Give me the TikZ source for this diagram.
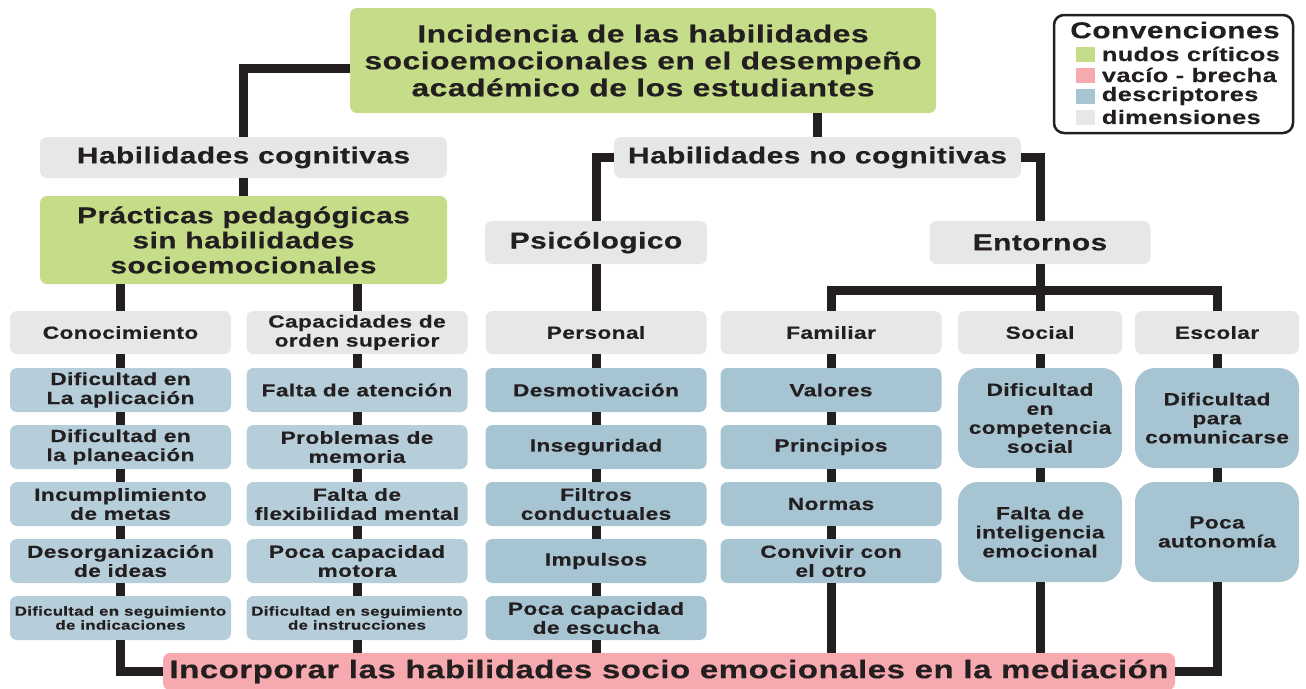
\documentclass[tikz,border=0pt]{standalone}
\usepackage{fontspec}
\setmainfont{Liberation Sans}[FakeStretch=1.3,LetterSpace=2,FakeBold=0.4]
\usepackage{xcolor}
\usepackage{tikz}
\usetikzlibrary{positioning,calc}

\definecolor{nudo}{HTML}{C5DC88}
\definecolor{vacio}{HTML}{F6A9AE}
\definecolor{descA}{HTML}{B5CEDA}
\definecolor{descB}{HTML}{A7C4D2}
\definecolor{dimen}{HTML}{E6E7E9}
\definecolor{linea}{HTML}{231F20}

\newcommand{\bigtxt}{\fontsize{24.5}{27}\selectfont}
\newcommand{\midtxt}{\fontsize{23}{25}\selectfont}
\newcommand{\stdtxt}{\fontsize{17.5}{19}\selectfont}
\newcommand{\tinytxt}{\fontsize{13}{14}\selectfont}
\newcommand{\legtxt}{\fontsize{19.5}{21}\selectfont}
\newcommand{\pinktxt}{\fontsize{25.4}{28}\selectfont}

\begin{document}
\begin{tikzpicture}[
    x=1pt, y=-1pt,
    base/.style={rounded corners=7pt, align=center, inner sep=0pt, text=linea, font=\bfseries},
    nudobox/.style={base, fill=nudo},
    dimbox/.style={base, fill=dimen, minimum height=43pt, font=\bfseries\midtxt},
    dimrow/.style={dimbox, minimum width=221pt, font=\bfseries\stdtxt},
    descbox/.style={base, fill=descA, minimum width=221pt, minimum height=44pt, font=\bfseries\stdtxt},
    tallbox/.style={descbox, fill=descB, minimum width=164pt, minimum height=100pt, rounded corners=20pt},
    link/.style={draw=linea, line width=9pt, line join=miter}
]
  \useasboundingbox (0,0) rectangle (1306,688);
  \clip (0,0) rectangle (1306,688);

  \node[nudobox, minimum width=586pt, minimum height=105pt, font=\bfseries\bigtxt] (tit) at (643,60.5)
    {Incidencia de las habilidades\\socioemocionales en el desempeño\\académico de los estudiantes};

  % convenciones
  \node[draw=linea, line width=2.5pt, rounded corners=10pt, minimum width=239pt, minimum height=118pt] (conv) at (1173.5,74) {};
  \node[font=\bfseries\midtxt, text=linea, inner sep=0pt] (convt) at (1175,30) {Convenciones};
  \foreach \c/\t [count=\i] in {nudo/nudos críticos, vacio/vacío - brecha, descB/descriptores, dimen/dimensiones} {
    \node[fill=\c, minimum width=19pt, minimum height=15pt, inner sep=0pt] (sw\i) at (1085,33+21*\i) {};
    \node[anchor=west, font=\bfseries\legtxt, text=linea, inner sep=0pt] (lt\i) at ([xshift=7pt]sw\i.east) {\t};
  }

  \node[dimbox, minimum width=407pt, minimum height=41pt] (habcog) at (243.5,157.5) {Habilidades cognitivas};
  \node[dimbox, minimum width=407pt, minimum height=41pt] (habnocog) at (817.5,157.5) {Habilidades no cognitivas};
  \node[nudobox, minimum width=407pt, minimum height=88pt, font=\bfseries\midtxt] (prac) at (243.5,240)
    {Prácticas pedagógicas\\sin habilidades\\socioemocionales};
  \node[dimbox, minimum width=222pt] (psico) at (596,242.5) {Psicólogico};
  \node[dimbox, minimum width=221pt] (entor) at (1040,242.5) {Entornos};

  \node[dimrow] (conh) at (120.5,332.5) {Conocimiento};
  \node[dimrow] (caph) at (357,332.5) {Capacidades de\\orden superior};
  \node[dimrow] (perh) at (596,332.5) {Personal};
  \node[dimrow] (famh) at (831,332.5) {Familiar};
  \node[dimrow, minimum width=164pt] (soch) at (1040,332.5) {Social};
  \node[dimrow, minimum width=164pt] (esch) at (1217,332.5) {Escolar};

  % descriptores
  \foreach \t [count=\i] in {{Dificultad en\\La aplicación},{Dificultad en\\la planeación},{Incumplimiento\\de metas},{Desorganización\\de ideas}}
    \node[descbox] (con\i) at (120.5,333+57*\i) {\t};
  \node[descbox, font=\bfseries\tinytxt] (con5) at (120.5,618) {Dificultad en seguimiento\\de indicaciones};

  \foreach \t [count=\i] in {{Falta de atención},{Problemas de\\memoria},{Falta de\\flexibilidad mental},{Poca capacidad\\motora}}
    \node[descbox] (cap\i) at (357,333+57*\i) {\t};
  \node[descbox, font=\bfseries\tinytxt] (cap5) at (357,618) {Dificultad en seguimiento\\de instrucciones};

  \foreach \t [count=\i] in {Desmotivación,Inseguridad,{Filtros\\conductuales},Impulsos,{Poca capacidad\\de escucha}}
    \node[descbox, fill=descB] (per\i) at (596,333+57*\i) {\t};

  \foreach \t [count=\i] in {Valores,Principios,Normas,{Convivir con\\el otro}}
    \node[descbox, fill=descB] (fam\i) at (831,333+57*\i) {\t};

  \node[tallbox] (soc1) at (1040,418) {Dificultad\\en\\competencia\\social};
  \node[tallbox] (soc2) at (1040,532) {Falta de\\inteligencia\\emocional};
  \node[tallbox] (esc1) at (1217,418) {Dificultad\\para\\comunicarse};
  \node[tallbox] (esc2) at (1217,532) {Poca\\autonomía};

  \node[base, fill=vacio, minimum width=1012pt, minimum height=37pt, font=\bfseries\pinktxt] (incorp) at (669,671.5)
    {Incorporar las habilidades socio emocionales en la mediación};

  % conectores
  \draw[link] ($(tit.west)+(0,7.5)$) -| (habcog.north);
  \draw[link] (tit.south -| habnocog.north) -- (habnocog.north);
  \draw[link] (habcog.south) -- (prac.north);
  \draw[link] (habnocog.west) -| (psico.north);
  \draw[link] (habnocog.east) -| (entor.north);
  \draw[link] (prac.south -| conh.north) -- (conh.north);
  \draw[link] (prac.south -| caph.north) -- (caph.north);
  \draw[link] (psico.south) -- (perh.north);
  \draw[link] (entor.south) -- (soch.north);
  \coordinate (ramal) at (1040,290);
  \draw[link] (famh.north) |- (ramal) -| (esch.north);

  \foreach \col in {con,cap,per} {
    \draw[link] (\col h.south) -- (\col 1.north);
    \foreach \a/\b in {1/2,2/3,3/4,4/5}
      \draw[link] (\col\a.south) -- (\col\b.north);
  }
  \draw[link] (famh.south) -- (fam1.north);
  \foreach \a/\b in {1/2,2/3,3/4}
    \draw[link] (fam\a.south) -- (fam\b.north);
  \draw[link] (soch.south) -- (soc1.north);
  \draw[link] (soc1.south) -- (soc2.north);
  \draw[link] (esch.south) -- (esc1.north);
  \draw[link] (esc1.south) -- (esc2.north);

  \draw[link] (con5.south) |- (incorp.west);
  \draw[link] (cap5.south) -- (cap5.south |- incorp.north);
  \draw[link] (per5.south) -- (per5.south |- incorp.north);
  \draw[link] (fam4.south) -- (fam4.south |- incorp.north);
  \draw[link] (soc2.south) -- (soc2.south |- incorp.north);
  \draw[link] (esc2.south) |- (incorp.east);
\end{tikzpicture}
\end{document}
